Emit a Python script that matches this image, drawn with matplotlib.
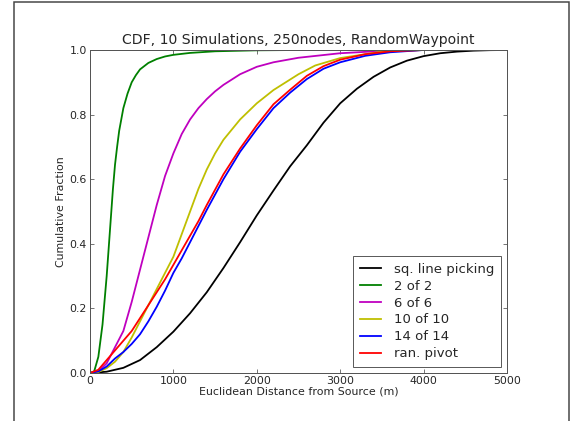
import matplotlib
matplotlib.use("Agg")
import matplotlib.pyplot as plt
from matplotlib.patches import Rectangle

title = "CDF, 10 Simulations, 250nodes, RandomWaypoint"
xlabel = "Euclidean Distance from Source (m)"
ylabel = "Cumulative Fraction"

# sq. line picking
black_x = [0, 200, 400, 600, 800, 1000, 1200, 1400, 1600, 1800, 2000, 2200, 2400, 2600, 2800, 3000, 3200, 3400, 3600, 3800, 4000, 4200, 4400, 4600, 4800, 5000]
black_y = [0, 0.004, 0.016, 0.04, 0.08, 0.128, 0.185, 0.25, 0.325, 0.405, 0.488, 0.565, 0.64, 0.705, 0.775, 0.835, 0.88, 0.917, 0.946, 0.967, 0.981, 0.99, 0.995, 0.998, 0.9995, 1.0]

# 2 of 2
green_x = [0, 50, 100, 150, 200, 225, 250, 275, 300, 325, 350, 400, 450, 500, 550, 600, 700, 800, 900, 1000, 1200, 1500, 2000, 2500, 5000]
green_y = [0, 0.005, 0.05, 0.15, 0.3, 0.39, 0.48, 0.57, 0.645, 0.70, 0.75, 0.82, 0.865, 0.90, 0.922, 0.94, 0.96, 0.972, 0.98, 0.985, 0.991, 0.996, 0.999, 1.0, 1.0]

# 6 of 6
mag_x = [0, 100, 200, 300, 400, 500, 600, 700, 800, 900, 1000, 1100, 1200, 1300, 1400, 1500, 1600, 1800, 2000, 2200, 2500, 3000, 3500, 4000, 5000]
mag_y = [0, 0.005, 0.03, 0.08, 0.13, 0.22, 0.32, 0.42, 0.52, 0.61, 0.68, 0.74, 0.785, 0.82, 0.848, 0.872, 0.892, 0.925, 0.948, 0.962, 0.976, 0.99, 0.997, 1.0, 1.0]

# 10 of 10
yel_x = [0, 100, 200, 300, 400, 500, 600, 700, 800, 900, 1000, 1100, 1200, 1300, 1400, 1500, 1600, 1800, 2000, 2200, 2500, 2700, 3000, 3500, 4000, 5000]
yel_y = [0, 0.003, 0.015, 0.035, 0.065, 0.11, 0.16, 0.21, 0.26, 0.31, 0.36, 0.43, 0.50, 0.57, 0.63, 0.68, 0.722, 0.785, 0.835, 0.876, 0.925, 0.952, 0.975, 0.995, 1.0, 1.0]

# 14 of 14
blue_x = [0, 100, 200, 300, 400, 500, 600, 700, 800, 900, 1000, 1100, 1200, 1300, 1400, 1600, 1800, 2000, 2200, 2400, 2600, 2800, 3000, 3300, 3600, 4000, 5000]
blue_y = [0, 0.005, 0.02, 0.045, 0.065, 0.09, 0.12, 0.16, 0.205, 0.255, 0.31, 0.355, 0.405, 0.455, 0.505, 0.6, 0.685, 0.755, 0.82, 0.868, 0.91, 0.942, 0.962, 0.982, 0.993, 1.0, 1.0]

# ran. pivot
red_x = [0, 100, 200, 300, 400, 500, 600, 700, 800, 900, 1000, 1100, 1200, 1300, 1400, 1600, 1800, 2000, 2200, 2400, 2600, 2800, 3000, 3300, 3600, 4000, 5000]
red_y = [0, 0.01, 0.04, 0.07, 0.1, 0.13, 0.17, 0.21, 0.25, 0.29, 0.335, 0.38, 0.425, 0.47, 0.52, 0.615, 0.695, 0.767, 0.832, 0.877, 0.92, 0.95, 0.97, 0.987, 0.996, 1.0, 1.0]

labels = ["sq. line picking", "2 of 2", "6 of 6", "10 of 10", "14 of 14", "ran. pivot"]
colors = ["black", (0, 0.5, 0), (0.75, 0, 0.75), (0.75, 0.75, 0), (0, 0, 1), (1, 0, 0)]

xticks = [0, 1000, 2000, 3000, 4000, 5000]
yticks = [0.0, 0.2, 0.4, 0.6, 0.8, 1.0]

txt = "#262626"
plt.rcParams['font.family'] = ['DejaVu Sans']

fig = plt.figure(figsize=(8, 421 / 72), dpi=72)
W, H = 576, 421
ax = fig.add_axes([90 / W, 1 - 373 / H, (507 - 90) / W, (373 - 50) / H])

series = [(black_x, black_y), (green_x, green_y), (mag_x, mag_y),
          (yel_x, yel_y), (blue_x, blue_y), (red_x, red_y)]
for (xs, ys), lab, c in zip(series, labels, colors):
    ax.plot(xs, ys, color=c, lw=1.8, label=lab)

ax.set_xlim(0, 5000)
ax.set_ylim(0, 1.0)
ax.set_xticks(xticks)
ax.set_yticks(yticks)
ax.set_xticklabels([str(t) for t in xticks])
ax.set_yticklabels([f"{t:.1f}" for t in yticks])
ax.tick_params(direction='in', length=4, width=0.8, top=True, right=True,
               labelsize=11, colors="#555555", labelcolor=txt, pad=3)
for s in ax.spines.values():
    s.set_color("#555555")
    s.set_linewidth(1.0)

ax.set_title(title, fontsize=14, color=txt, pad=6)
ax.set_xlabel(xlabel, fontsize=11, color=txt, labelpad=1)
ax.set_ylabel(ylabel, fontsize=11, color=txt, labelpad=4)

leg = ax.legend(loc='lower right', bbox_to_anchor=((501 - 90) / 417, (373 - 367) / 323),
                borderaxespad=0, fancybox=False, fontsize=13.2, handlelength=1.6,
                handletextpad=1.0, labelspacing=0.3, borderpad=0.5)
leg.get_frame().set_edgecolor("#333333")
leg.get_frame().set_linewidth(1.0)
for t in leg.get_texts():
    t.set_color(txt)

rect = Rectangle((14 / W, -0.1), (569 - 14) / W, 1.1 - 2 / H, transform=fig.transFigure,
                 fill=False, edgecolor="#444444", lw=1.5, clip_on=False)
fig.patches.append(rect)

fig.savefig("out.png", dpi=72)
